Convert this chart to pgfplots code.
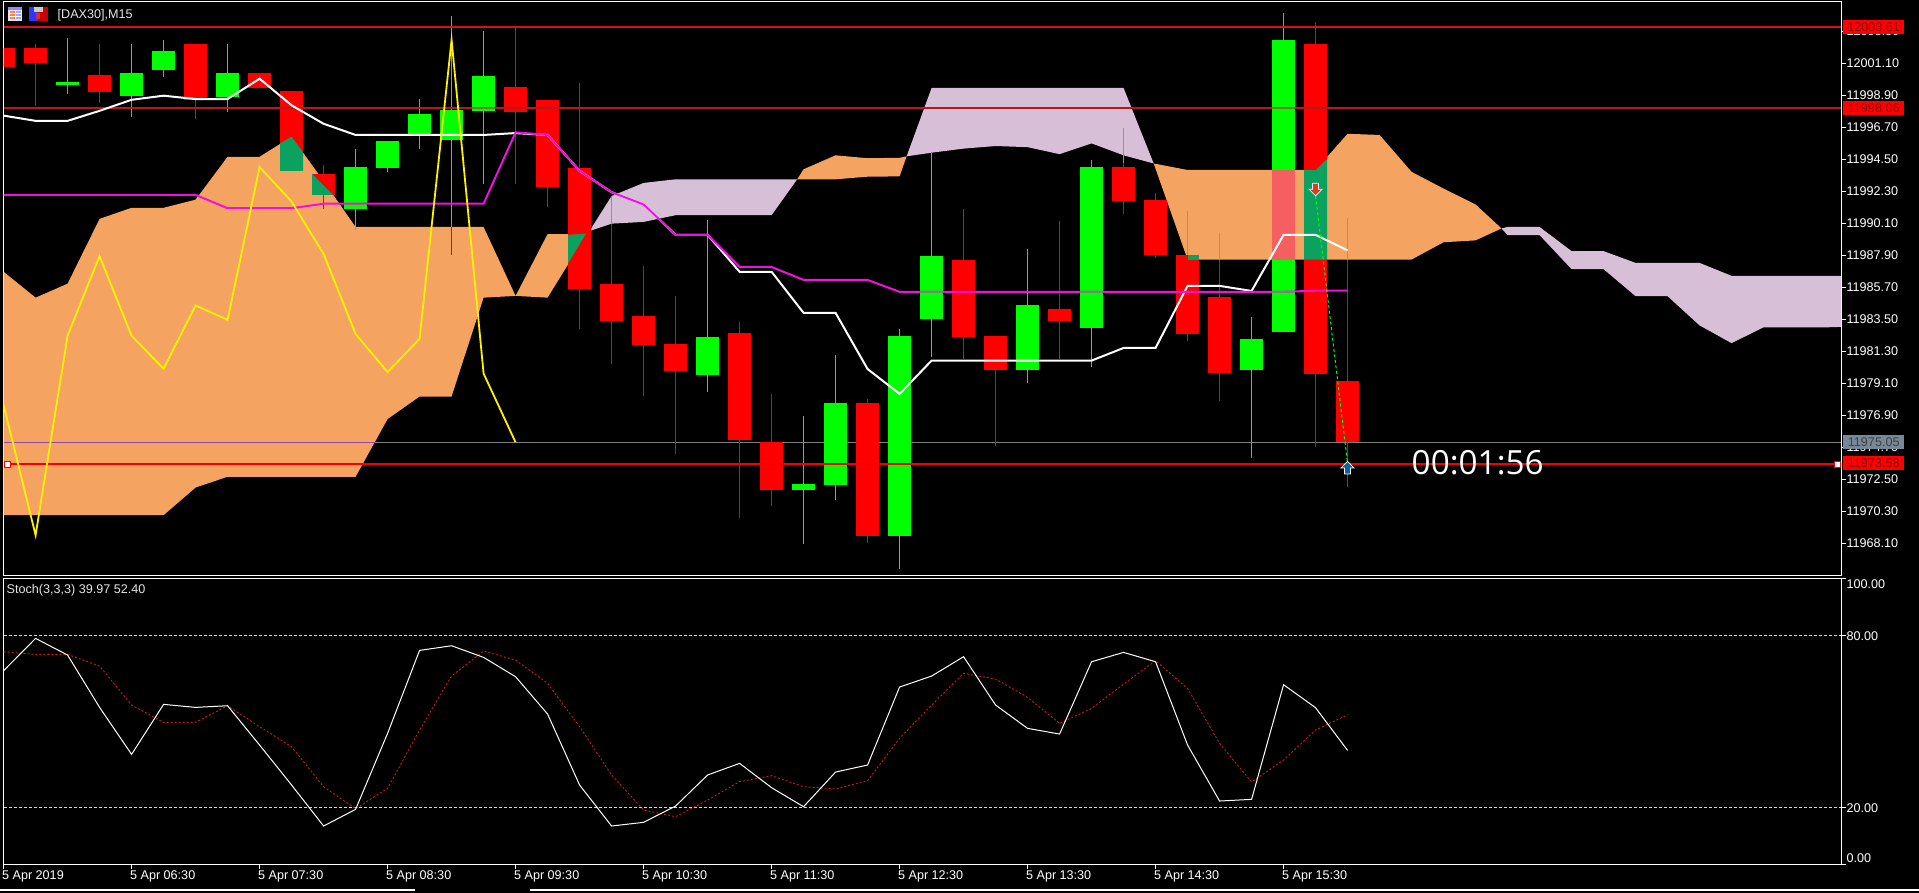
\documentclass[border=0pt]{standalone}
\usepackage{fontspec}
\setmainfont{Liberation Sans}
\newfontfamily\clockfont{Open Sans}
\usepackage{pgfplots}
\usepackage{pgfplotstable}
\pgfplotsset{compat=1.18}

\definecolor{cloudup}{HTML}{F4A460}
\definecolor{clouddn}{HTML}{D8BFD8}
\definecolor{xorteal}{HTML}{0BA25F}
\definecolor{xorsalmon}{HTML}{F55F62}
\definecolor{lblred}{HTML}{8B0000}
\definecolor{tenkan}{HTML}{F010E0}

% candle bodies: index, top, bottom
\pgfplotstableread{
i top bot
2 11999.83 11999.63
4 12000.47 11998.86
5 12001.97 12000.67
7 12000.47 11998.81
11 11994.00 11991.10
12 11995.79 11993.93
13 11997.64 11996.27
14 11997.92 11995.86
15 12000.26 11997.85
22 11982.30 11979.68
25 11972.20 11971.77
26 11977.77 11972.12
28 11982.38 11968.61
29 11987.87 11983.55
32 11984.49 11980.04
34 11994.00 11982.91
39 11982.17 11980.04
40 12002.73 11982.66
}\upbodies
\pgfplotstableread{
i top bot
0 12002.17 12000.87
1 12002.17 12001.15
3 12000.31 11999.14
6 12002.45 11998.56
8 12000.47 11999.42
9 11999.22 11993.72
10 11993.52 11992.07
16 11999.50 11997.77
17 11998.61 11992.61
18 11993.93 11985.61
19 11985.94 11983.39
20 11983.75 11981.74
21 11981.82 11979.96
23 11982.58 11975.20
24 11975.07 11971.77
27 11977.77 11968.61
30 11987.59 11982.30
31 11982.38 11980.04
33 11984.23 11983.39
35 11994.00 11991.66
36 11991.71 11987.95
37 11987.95 11982.50
38 11985.05 11979.83
41 12002.45 11979.76
42 11979.27 11975.05
}\dnbodies
% wicks, split where the colour flips inside the cloud
\pgfplotstableread{
i hi lo
2 12002.86 11999.02
4 12002.43 11997.44
5 12002.73 12000.19
7 12002.45 11997.77
11 11995.23 11989.65
12 11993.93 11993.65
13 11998.66 11995.23
14 12004.39 11989.86
15 12003.32 11992.83
22 11990.34 11978.51
25 11976.86 11968.05
26 11981.05 11971.08
28 11982.83 11966.37
29 11994.92 11980.93
32 11988.36 11979.15
34 11994.46 11980.24
37 11990.98 11987.95
38 11989.45 11987.62
39 11983.67 11973.98
40 12004.59 11982.66
42 11990.47 11987.62
}\upwicks
\pgfplotstableread{
i hi lo
1 12002.43 11998.15
3 12002.43 11998.41
6 12002.45 11997.29
10 11994.11 11991.10
14 11989.86 11987.92
16 12003.57 11992.83
17 11998.61 11991.23
18 11999.78 11982.83
19 11990.09 11980.42
20 11987.16 11978.25
21 11985.12 11974.26
23 11983.34 11969.81
24 11978.38 11970.67
27 11978.05 11968.13
30 11991.10 11980.75
31 11982.38 11974.82
33 11990.29 11980.75
35 11994.28 11990.72
36 11992.20 11987.75
37 11987.95 11982.02
38 11987.62 11977.87
41 12003.95 11974.74
42 11987.62 11972.00
}\dnwicks
\pgfplotstableread{
i hi lo
19 11991.99 11990.09
35 11996.65 11994.28
}\cywicks

\pgfplotstableread{
i kijun tenkan
0 11997.52 11992.07
1 11997.16 11992.07
2 11997.16 11992.07
3 11997.85 11992.07
4 11998.61 11992.07
5 11998.89 11992.07
6 11998.66 11992.07
7 11998.66 11991.15
8 12000.06 11991.15
9 11998.23 11991.15
10 11996.96 11991.46
11 11996.19 11991.46
12 11996.19 11991.46
13 11996.19 11991.46
14 11996.19 11991.46
15 11996.19 11991.46
16 11996.32 11996.37
17 11996.19 11996.19
18 11993.72 11993.72
19 11992.25 11992.25
20 11991.41 11991.41
21 11989.32 11989.32
22 11989.32 11989.32
23 11986.78 11987.11
24 11986.78 11987.11
25 11983.95 11986.22
26 11983.95 11986.22
27 11980.09 11986.22
28 11978.38 11985.40
29 11980.67 11985.40
30 11980.67 11985.40
31 11980.67 11985.40
32 11980.67 11985.40
33 11980.67 11985.40
34 11980.67 11985.40
35 11981.54 11985.40
36 11981.54 11985.40
37 11985.81 11985.40
38 11985.81 11985.40
39 11985.46 11985.40
40 11989.32 11985.40
41 11989.32 11985.48
42 11988.25 11985.48
}\ichimoku

\pgfplotstableread{
i chikou
0 11977.62
1 11968.66
2 11982.38
3 11987.85
4 11982.38
5 11980.11
6 11984.46
7 11983.47
8 11993.98
9 11991.61
10 11988.00
11 11982.50
12 11979.88
13 11982.17
14 12002.73
15 11979.78
16 11975.05
}\chikou

\pgfplotstableread{
i main signal
0 67.78 74.41
1 79.06 73.48
2 73.25 73.48
3 54.99 69.41
4 38.60 55.81
5 56.04 49.76
6 54.99 49.76
7 55.57 55.57
8 41.85 48.25
9 27.90 41.27
10 13.60 27.32
11 19.41 19.64
12 45.92 26.74
13 74.88 47.09
14 76.50 65.92
15 72.43 74.64
16 65.69 71.50
17 52.67 63.37
18 27.90 48.25
19 13.60 31.39
20 14.88 19.18
21 20.57 16.85
22 31.39 22.67
23 35.46 29.06
24 26.97 31.16
25 20.34 27.32
26 32.43 26.50
27 34.88 29.41
28 62.09 44.18
29 65.92 55.81
30 72.67 66.85
31 55.81 64.88
32 47.67 58.48
33 45.69 49.41
34 70.92 54.64
35 74.18 63.13
36 70.92 71.27
37 41.85 61.62
38 22.32 42.43
39 22.90 28.95
40 62.90 36.62
41 54.88 47.09
42 39.97 52.40
}\stoch

\pgfdeclareplotmark{dnarrow}{%
  \pgfpathmoveto{\pgfqpoint{0pt}{-6.5pt}}\pgfpathlineto{\pgfqpoint{6.5pt}{0pt}}%
  \pgfpathlineto{\pgfqpoint{3pt}{0pt}}\pgfpathlineto{\pgfqpoint{3pt}{6pt}}%
  \pgfpathlineto{\pgfqpoint{-3pt}{6pt}}\pgfpathlineto{\pgfqpoint{-3pt}{0pt}}%
  \pgfpathlineto{\pgfqpoint{-6.5pt}{0pt}}\pgfpathclose\pgfusepathqfillstroke}
\pgfdeclareplotmark{uparrow}{%
  \pgfpathmoveto{\pgfqpoint{0pt}{6.5pt}}\pgfpathlineto{\pgfqpoint{6.5pt}{0pt}}%
  \pgfpathlineto{\pgfqpoint{3pt}{0pt}}\pgfpathlineto{\pgfqpoint{3pt}{-6pt}}%
  \pgfpathlineto{\pgfqpoint{-3pt}{-6pt}}\pgfpathlineto{\pgfqpoint{-3pt}{0pt}}%
  \pgfpathlineto{\pgfqpoint{-6.5pt}{0pt}}\pgfpathclose\pgfusepathqfillstroke}

\pgfplotsset{
  mt5/.style={
    scale only axis,
    width=1837.4pt,
    xmin=0,xmax=57.42,
    axis line style={white,line width=1pt},
    tick style={white,line width=1pt},
    tick align=outside,
    major tick length=4.5pt,
    ytick pos=right,
    yticklabel pos=right,
    ticklabel style={text=white,font=\fontsize{12.6}{14}\selectfont},
    yticklabel style={xshift=-2.5pt,/pgf/number format/fixed,/pgf/number format/fixed zerofill,/pgf/number format/precision=2,/pgf/number format/1000 sep={},/pgf/number format/assume math mode=true},
    scaled y ticks=false,
  },
  candle/.style 2 args={draw=none,mark=none,
    error bars/.cd,y dir=minus,y explicit,error mark=none,
    error bar style={draw=#1,line width=#2}},
}
\newcommand{\candles}[4]{\addplot[candle={#1}{#2}] table[x=i,y=#3,y error minus expr=\thisrow{#3}-\thisrow{#4}]}

\begin{document}
\begin{tikzpicture}[x=1pt,y=1pt]
\fill[black] (0,0) rectangle (1919,893);
\useasboundingbox (0,0) rectangle (1919,893);

\begin{axis}[mt5,
  at={(3.6pt,317.5pt)},anchor=south west,
  height=574pt,
  ymin=11965.89,ymax=12005.37,
  xtick=\empty,
  ytick={12003.30,12001.10,11998.90,11996.70,11994.50,11992.30,11990.10,11987.90,11985.70,11983.50,11981.30,11979.10,11976.90,11974.70,11972.50,11970.30,11968.10},
]
% cloud, one polygon per stretch between crossings
\addplot[fill=cloudup,draw=none] coordinates {(0,11986.78)(1,11985.00)(2,11985.96)(3,11990.42)(4,11991.18)(5,11991.18)(6,11991.74)(7,11994.69)(8,11994.69)(9,11996.07)(10,11993.01)(11,11989.86)(12,11989.86)(13,11989.86)(14,11989.86)(15,11989.86)(16,11985.12)(17,11989.37)(18,11989.37)(18.31,11989.58)(18,11988.56)(17,11985.00)(16,11985.12)(15,11985.00)(14,11978.20)(13,11978.20)(12,11976.65)(11,11972.68)(10,11972.68)(9,11972.68)(8,11972.68)(7,11972.68)(6,11971.94)(5,11970.04)(4,11970.04)(3,11970.04)(2,11970.04)(1,11970.04)(0,11970.04)} --cycle;
\addplot[fill=clouddn,draw=none] coordinates {(18.31,11989.58)(19,11991.99)(20,11992.89)(21,11993.14)(22,11993.14)(23,11993.14)(24,11993.14)(24.80,11993.14)(24,11990.67)(23,11990.67)(22,11990.67)(21,11990.67)(20,11990.21)(19,11990.09)} --cycle;
\addplot[fill=cloudup,draw=none] coordinates {(24.80,11993.14)(25,11993.83)(26,11994.79)(27,11994.59)(28,11994.62)(28.22,11994.72)(28,11993.34)(27,11993.32)(26,11993.14)(25,11993.14)} --cycle;
\addplot[fill=clouddn,draw=none] coordinates {(28.22,11994.72)(29,11999.42)(30,11999.42)(31,11999.42)(32,11999.42)(33,11999.42)(34,11999.42)(35,11999.42)(35.94,11994.23)(35,11994.79)(34,11995.61)(33,11994.87)(32,11995.35)(31,11995.43)(30,11995.25)(29,11994.97)} --cycle;
\addplot[fill=cloudup,draw=none] coordinates {(35.94,11994.23)(37,11993.78)(38,11993.78)(39,11993.78)(40,11993.78)(41,11993.78)(42,11996.27)(43,11996.19)(44,11993.65)(45,11992.50)(46,11991.41)(46.81,11989.76)(46,11988.94)(45,11988.81)(44,11987.62)(43,11987.62)(42,11987.62)(41,11987.62)(40,11987.62)(39,11987.62)(38,11987.62)(37,11987.62)} --cycle;
\addplot[fill=clouddn,draw=none] coordinates {(46.81,11989.76)(47,11989.86)(48,11989.86)(49,11988.20)(50,11988.20)(51,11987.39)(52,11987.39)(53,11987.39)(54,11986.50)(55,11986.50)(56,11986.50)(57,11986.50)(57.42,11986.50)(57.42,11982.99)(57,11982.96)(56,11982.96)(55,11982.96)(54,11981.87)(53,11983.09)(52,11985.10)(51,11985.10)(50,11986.96)(49,11986.96)(48,11989.30)(47,11989.30)} --cycle;
% bid line, purple where it runs over the cloud
\addplot[gray,line width=1pt] coordinates {(11.62,11975.05)(57.42,11975.05)};
\addplot[color={rgb,255:red,150;green,70;blue,170},line width=1pt] coordinates {(0,11975.05)(11.62,11975.05)};
% candles
\candles{green}{1pt}{hi}{lo} {\upwicks};
\candles{red}{1pt}{hi}{lo} {\dnwicks};
\candles{cyan!70!gray}{1pt}{hi}{lo} {\cywicks};
\candles{green}{23pt}{top}{bot} {\upbodies};
\candles{red}{23pt}{top}{bot} {\dnbodies};
% cloud over candle bodies
\addplot[fill=xorteal,draw=none] coordinates {(8.64,11995.61)(9,11996.07)(9.36,11995.00)(9.36,11993.72)(8.64,11993.72)} --cycle;
\addplot[fill=xorteal,draw=none] coordinates {(9.64,11993.52)(10.29,11992.07)(9.64,11992.07)} --cycle;
\addplot[fill=xorteal,draw=none] coordinates {(17.64,11987.36)(17.64,11989.32)(18.2,11989.40)} --cycle;
\addplot[fill=xorteal,draw=none] coordinates {(37,11987.95)(37.36,11987.95)(37.36,11987.62)(37,11987.62)} --cycle;
\addplot[fill=xorsalmon,draw=none] coordinates {(39.64,11993.78)(40.36,11993.78)(40.36,11987.62)(39.64,11987.62)} --cycle;
\addplot[fill=xorteal,draw=none] coordinates {(40.64,11993.78)(41,11993.78)(41.36,11994.54)(41.36,11987.62)(40.64,11987.62)} --cycle;
% stop / target levels
\addplot[color={rgb,255:red,224;green,16;blue,16},line width=2pt] coordinates {(0,12003.61)(57.42,12003.61)};
\addplot[color={rgb,255:red,185;green,24;blue,24},line width=2pt] coordinates {(0,11998.06)(57.42,11998.06)};
\addplot[color={rgb,255:red,110;green,120;blue,40},line width=2pt,unbounded coords=jump] coordinates {(14.64,11998.06)(15.36,11998.06)(15.36,nan)(39.64,nan)(39.64,11998.06)(40.36,11998.06)};
\addplot[color={rgb,255:red,245;green,0;blue,0},line width=2pt] coordinates {(0,11973.58)(57.42,11973.58)};
\addplot[only marks,mark=square*,mark size=3pt,mark options={fill=white,draw=red,line width=.8pt}] coordinates {(0.13,11973.52)(57.3,11973.52)};
% ichimoku lines
\addplot[white,line width=2pt] table[x=i,y=kijun] {\ichimoku};
\addplot[color=tenkan,line width=2pt] table[x=i,y=tenkan] {\ichimoku};
\addplot[gray,line width=2pt,unbounded coords=jump] coordinates {(28.64,11985.40)(29.36,11985.40)(29.36,nan)(33.64,nan)(33.64,11985.40)(34.36,11985.40)(34.36,nan)(39.64,nan)(39.64,11985.40)(40.36,11985.41)};
\addplot[yellow,line width=1.8pt] table[x=i,y=chikou] {\chikou};
% trade arrows
\addplot[green,line width=1pt,dash pattern=on 3pt off 2.5pt] coordinates {(41,11991.99)(42,11973.58)};
\addplot[only marks,mark=dnarrow,mark options={fill={rgb,255:red,215;green,60;blue,30},draw=white,line width=.7pt}] coordinates {(41,11992.45)};
\addplot[only marks,mark=uparrow,mark options={fill={rgb,255:red,15;green,95;blue,170},draw=white,line width=.7pt}] coordinates {(42,11973.29)};
\end{axis}

\begin{axis}[mt5,
  at={(3.6pt,28pt)},anchor=south west,
  height=286.6pt,
  ymin=0,ymax=100,
  xtick={0,4,...,40},
  xticklabels={5 Apr 2019,5 Apr 06:30,5 Apr 07:30,5 Apr 08:30,5 Apr 09:30,5 Apr 10:30,5 Apr 11:30,5 Apr 12:30,5 Apr 13:30,5 Apr 14:30,5 Apr 15:30},
  xtick pos=bottom,
  xticklabel style={anchor=north west,xshift=-5pt,yshift=2pt},
  ytick={0,20,80,100},
  yticklabels={\raisebox{6.7pt}[\height][\depth]{0.00},20.00,80.00,\raisebox{-6pt}[\height][\depth]{100.00}},
]
\addplot[white!85!black,line width=1pt,dash pattern=on 3pt off 2pt] coordinates {(0,80)(57.42,80)};
\addplot[white!85!black,line width=1pt,dash pattern=on 3pt off 2pt] coordinates {(0,20)(57.42,20)};
\addplot[color={rgb,255:red,200;green,30;blue,30},line width=.9pt,dash pattern=on 2pt off 2pt] table[x=i,y=signal] {\stoch};
\addplot[white,line width=1pt] table[x=i,y=main] {\stoch};
\end{axis}

% price labels on the right edge
\tikzset{pricebox/.style={anchor=west,inner sep=0pt,minimum width=61pt,minimum height=14pt,font=\fontsize{12.6}{14}\selectfont}}
\node[pricebox,fill=red,text=lblred] at (1843,866) {12003.61};
\node[pricebox,fill=red,text=lblred] at (1843,785) {11998.06};
\node[pricebox,fill={rgb,255:red,119;green,136;blue,153},text=black!75] at (1843,451) {11975.05};
\node[pricebox,fill=red,text=lblred] at (1843,430) {11973.58};

\node[anchor=west,inner sep=0pt,text=white,font=\clockfont\fontsize{33.3}{36}\selectfont] at (1411.5,430) {00:01:56};
\node[anchor=west,inner sep=0pt,text=white!90!black,font=\fontsize{12.6}{14}\selectfont] at (57.5,878) {[DAX30],M15};
\node[anchor=west,inner sep=0pt,text=white!90!black,font=\fontsize{12.6}{14}\selectfont] at (6.5,303) {Stoch(3,3,3) 39.97 52.40};

% window icons
\fill[white!90!blue] (8,872) rectangle (22,886);
\fill[blue!45] (8,883) rectangle (22,886);
\fill[orange!60!red!70] (9.5,873.5) rectangle (14.5,882);
\fill[blue!35] (15.5,873.5) rectangle (20.5,882);
\draw[white,line width=.6pt] (9,876.5) -- (21,876.5) (9,879.5) -- (21,879.5);
\fill[blue!80] (29,872) rectangle (38,886);
\fill[red!80!black] (38,872) rectangle (48,886);
\fill[gray!40] (34,881) rectangle (43,886);
\fill[red!60!gray] (36,874) rectangle (40,880);

% tab strip along the bottom edge
\draw[white,line width=1.5pt] (0,3) -- (415,3) (530,3) -- (1919,3);
\end{tikzpicture}
\end{document}
